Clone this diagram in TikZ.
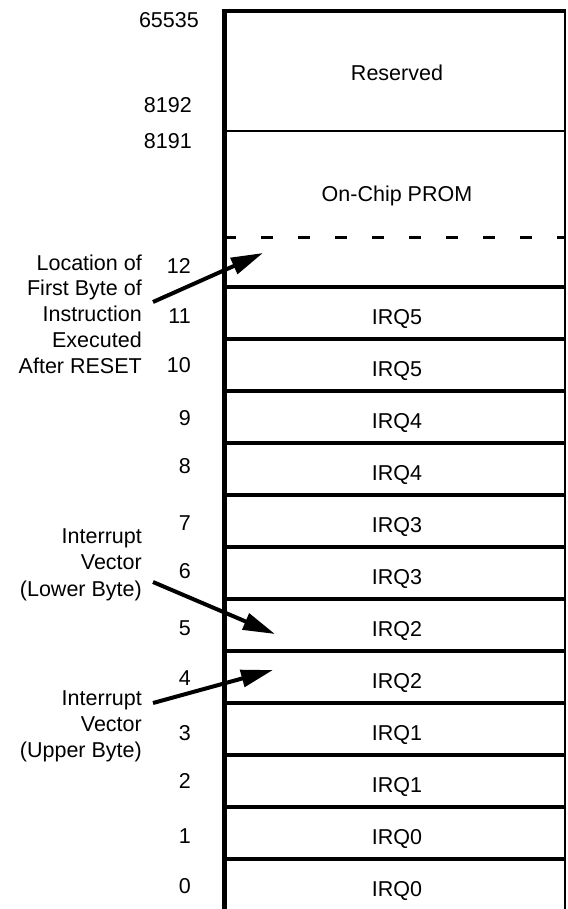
\documentclass[tikz,border=0pt]{standalone}
\usepackage{fontspec}
\setmainfont{Liberation Sans}
\usetikzlibrary{arrows.meta}
\begin{document}
\begin{tikzpicture}[x=1pt,y=-1pt,
  txt/.style={font=\fontsize{21.5}{26}\selectfont, inner sep=0pt},
  addr/.style={txt, anchor=base east},
  lbl/.style={txt, anchor=base east},
  celltext/.style={txt, anchor=base},
  divider/.style={line width=3.2pt},
  ptr/.style={line width=4pt, -{Triangle[length=32pt,width=17pt]}}]
\useasboundingbox (0,0) rectangle (567,909);
% frame
\draw[line width=2pt] (565,11) -- (565,909);
\draw[line width=2.5pt] (224,131) -- (565,131);
\draw[line width=3pt, dash pattern=on 12pt off 25pt] (224,237) -- (565,237);
\foreach \y in {287,339,...,859} \draw[divider] (224,\y) -- (565,\y);
\draw[line width=5pt] (224,909) -- (224,11);
\draw[line width=4.5pt] (221.5,11) -- (566,11);
% region texts
\node[celltext] (reserved) at (397,81) {Reserved};
\node[celltext] (prom) at (397,201.5) {On-Chip PROM};
\foreach \lab [count=\i from 0] in {IRQ5,IRQ5,IRQ4,IRQ4,IRQ3,IRQ3,IRQ2,IRQ2,IRQ1,IRQ1,IRQ0,IRQ0}
  \node[celltext] (cell\i) at (397,{287+52*\i+37}) {\lab};
% addresses
\node[addr] (a65535) at (199,28) {65535};
\node[addr] (a8192) at (192,113) {8192};
\node[addr] (a8191) at (192,149) {8191};
\foreach \n/\yb in {12/273,11/323,10/372,9/425,8/473,7/530,6/578,5/635,4/685,3/740,2/788,1/843,0/893}
  \node[addr] (a\n) at (191,\yb) {\n};
% side labels
\node[lbl] (loc1) at (142,270) {Location of};
\node[lbl] (loc2) at (142,295.8) {First Byte of};
\node[lbl] (loc3) at (142,321.6) {Instruction};
\node[lbl] (loc4) at (142,347.4) {Executed};
\node[lbl] (loc5) at (142,373.2) {After RESET};
\node[lbl] (low1) at (142,543) {Interrupt};
\node[lbl] (low2) at (142,569.5) {Vector};
\node[lbl] (low3) at (142,596) {(Lower Byte)};
\node[lbl] (up1) at (142,705) {Interrupt};
\node[lbl] (up2) at (142,731) {Vector};
\node[lbl] (up3) at (142,757) {(Upper Byte)};
% arrows
\coordinate (s1) at (153,302);
\coordinate (t1) at (263,253);
\coordinate (s2) at (153,582);
\coordinate (t2) at (275,634);
\coordinate (s3) at (153,703);
\coordinate (t3) at (273,670);
\draw[ptr] (s1) -- (t1);
\draw[ptr] (s2) -- (t2);
\draw[ptr] (s3) -- (t3);
\end{tikzpicture}
\end{document}
